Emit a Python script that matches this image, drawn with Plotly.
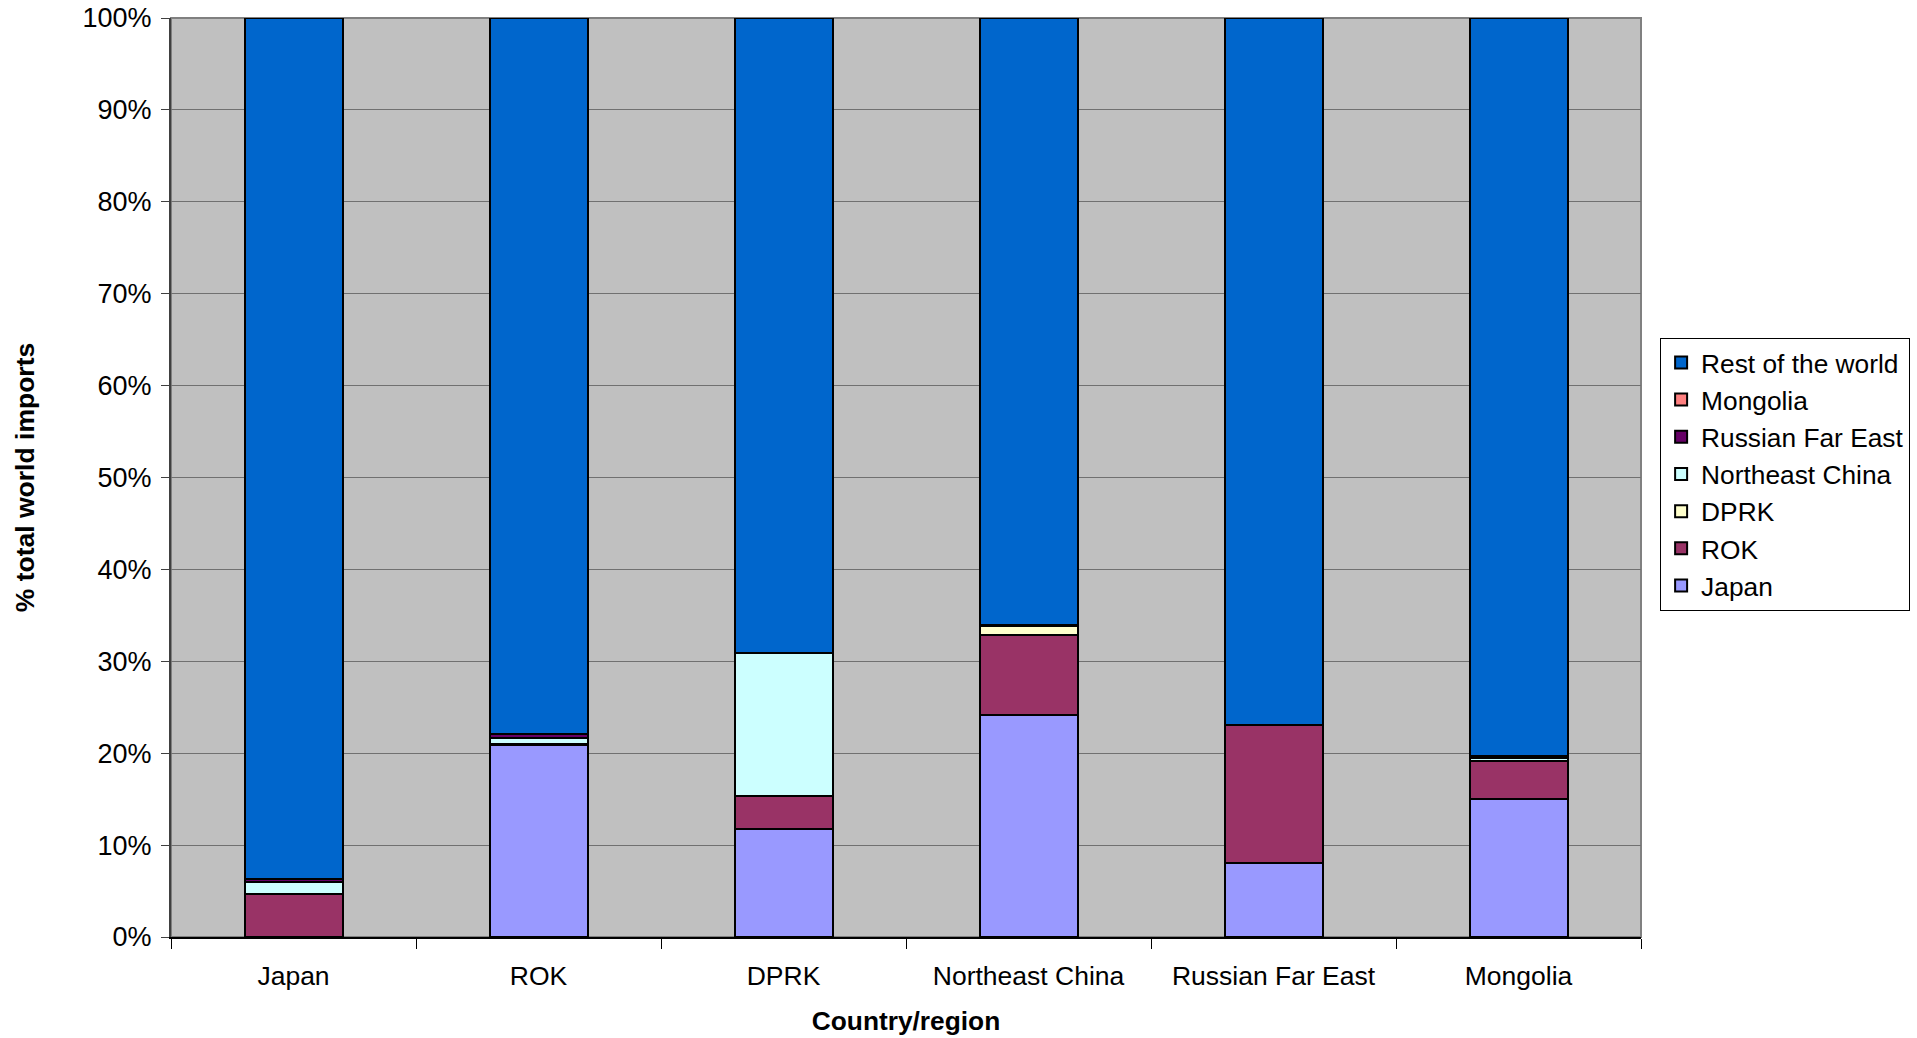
import plotly.graph_objects as go

categories = ["Japan", "ROK", "DPRK", "Northeast China", "Russian Far East", "Mongolia"]

japan = [0.0, 20.9, 11.7, 24.2, 8.0, 15.0]
rok = [4.65, 0.0, 3.6, 8.7, 15.07, 4.1]
dprk = [0.05, 0.15, 0.0, 0.95, 0.0, 0.05]
northeast_china = [1.3, 0.65, 15.57, 0.0, 0.0, 0.3]
russian_far_east = [0.3, 0.4, 0.05, 0.1, 0.0, 0.2]
mongolia = [0.02, 0.02, 0.01, 0.05, 0.0, 0.0]
rest_of_world = [93.68, 77.88, 69.07, 66.0, 76.93, 80.35]

series = [
    ("Japan", japan, "#9999FF"),
    ("ROK", rok, "#993366"),
    ("DPRK", dprk, "#FFFFCC"),
    ("Northeast China", northeast_china, "#CCFFFF"),
    ("Russian Far East", russian_far_east, "#660066"),
    ("Mongolia", mongolia, "#FF8080"),
    ("Rest of the world", rest_of_world, "#0066CC"),
]

FONT = "Liberation Sans, Arial, sans-serif"

fig = go.Figure()
for name, vals, color in series:
    fig.add_trace(go.Bar(
        x=categories, y=vals, name=name,
        marker=dict(color=color, line=dict(color="black", width=2)),
    ))

fig.update_layout(
    barmode="stack",
    bargap=0.6,
    width=1917, height=1038,
    margin=dict(l=171, r=276, t=18, b=101, autoexpand=False),
    plot_bgcolor="#C0C0C0",
    paper_bgcolor="white",
    font=dict(family=FONT, size=26, color="black"),
    legend=dict(
        traceorder="reversed",
        x=1.013, y=0.652, xanchor="left", yanchor="top",
        bordercolor="black", borderwidth=1, bgcolor="white",
        font=dict(family=FONT, size=26.3, color="black"),
        tracegroupgap=0,
    ),
    xaxis=dict(
        title=dict(text="<b>Country/region</b>", font=dict(size=26.3), standoff=22),
        tickfont=dict(size=26.5),
        ticks="outside", tickson="boundaries", ticklen=10, tickcolor="black",
        ticklabelstandoff=14,
        showline=True, linecolor="black", linewidth=2,
        showgrid=False,
    ),
    yaxis=dict(
        title=dict(text="<b>% total world imports</b>", font=dict(size=26.5), standoff=40),
        range=[0, 100], dtick=10, ticksuffix="%",
        tickfont=dict(size=27),
        ticks="outside", ticklen=8, tickcolor="#404040",
        ticklabelstandoff=4,
        showline=True, linecolor="#404040", linewidth=2,
        showgrid=True, gridcolor="#707070", gridwidth=1,
        zeroline=False,
    ),
)

fig.add_shape(type="rect", xref="paper", yref="paper", x0=0, x1=1, y0=0, y1=1,
              line=dict(color="#808080", width=2), layer="below")

fig.write_html("out.html")
